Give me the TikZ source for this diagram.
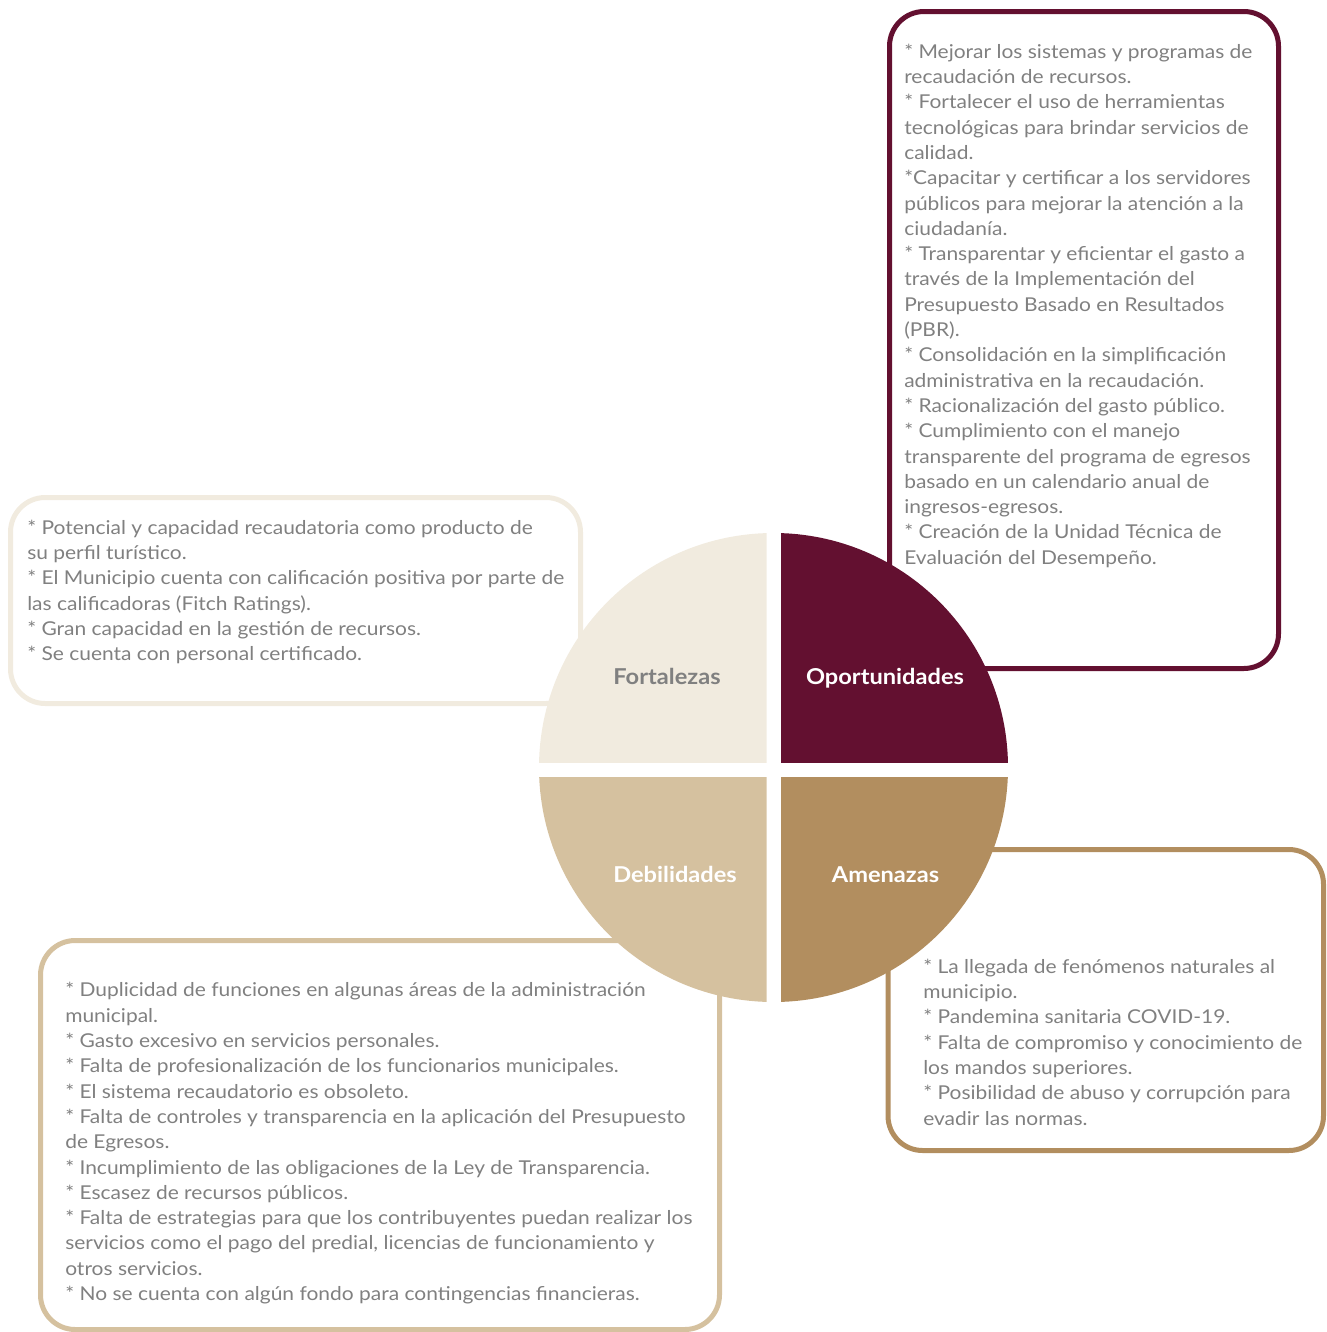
\documentclass[tikz,border=0pt]{standalone}
\usepackage{fontspec}
\setmainfont{Lato}
\newfontfamily\bodyfont[FakeStretch=1.1]{Lato}
\newfontfamily\labfont[FakeStretch=1.08]{Lato Bold}
\definecolor{maroon}{HTML}{631030}
\definecolor{bronze}{HTML}{B28E5F}
\definecolor{sand}{HTML}{D5C19F}
\definecolor{cream}{HTML}{F1EBDF}
\definecolor{txtgray}{HTML}{808080}
\tikzset{
  frame/.style={line width=3.75pt, rounded corners=26pt},
  body/.style={anchor=north west, inner sep=0pt, align=left, text=txtgray,
    font=\bodyfont\fontsize{14.3pt}{18.975pt}\selectfont},
  lab/.style={anchor=base, inner sep=0pt, font=\labfont\fontsize{16.4pt}{19pt}\selectfont},
}
\begin{document}
\begin{tikzpicture}[x=0.75pt,y=-0.75pt]
\useasboundingbox (0,0) rectangle (1327,1332);
% frames
\draw[frame, draw=maroon] (889.5,11.5) rectangle (1278.5,668.5);
\draw[frame, draw=cream] (10.5,497.5) rectangle (580.5,703.5);
\draw[frame, draw=bronze] (888,849.5) rectangle (1323.5,1150.5);
\draw[frame, draw=sand] (40.5,940.5) rectangle (719.5,1329.5);
% texts
\node[body] (optxt) at (904,40.3) {\strut* Mejorar los sistemas y programas de\\
recaudación de recursos.\\
* Fortalecer el uso de herramientas\\
tecnológicas para brindar servicios de\\
calidad.\\
*Capacitar y certificar a los servidores\\
públicos para mejorar la atención a la\\
ciudadanía.\\
* Transparentar y eficientar el gasto a\\
través de la Implementación del\\
Presupuesto Basado en Resultados\\
(PBR).\\
* Consolidación en la simplificación\\
administrativa en la recaudación.\\
* Racionalización del gasto público.\\
* Cumplimiento con el manejo\\
transparente del programa de egresos\\
basado en un calendario anual de\\
ingresos-egresos.\\
* Creación de la Unidad Técnica de\\
Evaluación del Desempeño.};
\node[body] (fotxt) at (27,516.3) {\strut* Potencial y capacidad recaudatoria como producto de\\
su perfil turístico.\\
* El Municipio cuenta con calificación positiva por parte de\\
las calificadoras (Fitch Ratings).\\
* Gran capacidad en la gestión de recursos.\\
* Se cuenta con personal certificado.};
\node[body] (amtxt) at (923,955.3) {\strut* La llegada de fenómenos naturales al\\
municipio.\\
* Pandemina sanitaria COVID-19.\\
* Falta de compromiso y conocimiento de\\
los mandos superiores.\\
* Posibilidad de abuso y corrupción para\\
evadir las normas.};
\node[body] (detxt) at (65,979) {\strut* Duplicidad de funciones en algunas áreas de la administración\\
municipal.\\
* Gasto excesivo en servicios personales.\\
* Falta de profesionalización de los funcionarios municipales.\\
* El sistema recaudatorio es obsoleto.\\
* Falta de controles y transparencia en la aplicación del Presupuesto\\
de Egresos.\\
* Incumplimiento de las obligaciones de la Ley de Transparencia.\\
* Escasez de recursos públicos.\\
* Falta de estrategias para que los contribuyentes puedan realizar los\\
servicios como el pago del predial, licencias de funcionamiento y\\
otros servicios.\\
* No se cuenta con algún fondo para contingencias financieras.};
% quadrants
\begin{scope}
\clip (500,500) rectangle (766.5,762.5);
\fill[cream] (773.5,767.5) circle[radius=234.5];
\end{scope}
\begin{scope}
\clip (781,500) rectangle (1050,762.5);
\fill[maroon] (773.5,767.5) circle[radius=234.5];
\end{scope}
\begin{scope}
\clip (500,777) rectangle (766.5,1050);
\fill[sand] (773.5,767.5) circle[radius=234.5];
\end{scope}
\begin{scope}
\clip (781,777) rectangle (1050,1050);
\fill[bronze] (773.5,767.5) circle[radius=234.5];
\end{scope}
% labels
\node[lab, text=txtgray] (folab) at (667,684.5) {Fortalezas};
\node[lab, text=white] (oplab) at (885,684.5) {Oportunidades};
\node[lab, text=white] (delab) at (675,882.3) {Debilidades};
\node[lab, text=white] (amlab) at (885.5,882.3) {Amenazas};
\end{tikzpicture}
\end{document}
